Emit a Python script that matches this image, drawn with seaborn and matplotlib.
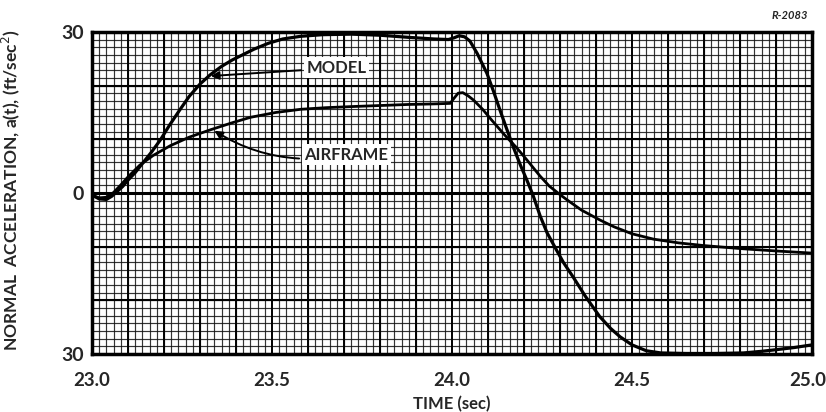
import numpy as np
import pandas as pd
import matplotlib
matplotlib.use("Agg")
import matplotlib.pyplot as plt
from matplotlib.ticker import MultipleLocator, FixedLocator
from matplotlib.transforms import ScaledTranslation
import seaborn as sns

# Time samples (sec) and normal acceleration (ft/sec^2) for each response
model_t = [23.00, 23.02, 23.04, 23.055, 23.07, 23.085, 23.10, 23.12, 23.14,
           23.165, 23.19, 23.215, 23.244, 23.27, 23.30, 23.328, 23.36, 23.39,
           23.42, 23.45, 23.49, 23.53, 23.58, 23.64, 23.72, 23.80, 23.88,
           23.95, 23.99, 24.005, 24.02, 24.035, 24.05, 24.07, 24.097, 24.115,
           24.133, 24.15, 24.17, 24.19, 24.208, 24.225, 24.245, 24.264, 24.29,
           24.31, 24.336, 24.37, 24.41, 24.44, 24.467, 24.50, 24.54, 24.58,
           24.65, 24.73, 24.81, 24.86, 24.90, 24.95, 25.00]
model_a = [-0.4, -1.1, -1.2, -0.6, 0.3, 1.2, 2.4, 3.8, 5.5,
           7.6, 9.9, 12.6, 15.5, 18.0, 20.3, 22.0, 23.6, 24.8,
           25.8, 26.8, 27.9, 28.7, 29.2, 29.5, 29.6, 29.4, 29.0,
           28.7, 28.6, 28.9, 29.3, 29.1, 28.3, 26.0, 22.3, 19.0,
           15.5, 12.3, 8.6, 5.2, 2.4, -0.4, -4.3, -7.4, -10.6,
           -13.0, -15.6, -19.2, -23.0, -25.2, -26.8, -28.3, -29.4, -29.8,
           -29.9, -29.9, -29.8, -29.5, -29.2, -28.8, -28.3]

airframe_t = [23.00, 23.02, 23.04, 23.06, 23.08, 23.10, 23.133, 23.17, 23.217,
              23.27, 23.33, 23.39, 23.44, 23.51, 23.58, 23.65, 23.72, 23.80,
              23.88, 23.95, 23.995, 24.005, 24.017, 24.03, 24.045, 24.06,
              24.085, 24.11, 24.145, 24.18, 24.21, 24.244, 24.27, 24.30, 24.32,
              24.36, 24.41, 24.45, 24.50, 24.56, 24.63, 24.70, 24.81, 24.90,
              25.00]
airframe_a = [-0.4, -0.9, -0.8, 0.1, 1.5, 3.0, 5.2, 7.0, 8.8,
              10.4, 11.8, 13.1, 14.1, 15.0, 15.6, 15.9, 16.1, 16.3,
              16.5, 16.6, 16.7, 17.6, 18.6, 18.7, 18.1, 17.3,
              15.6, 13.6, 10.9, 8.4, 6.0, 3.2, 1.3, -0.3, -1.3,
              -3.2, -5.0, -6.3, -7.6, -8.6, -9.3, -9.8, -10.4, -10.8,
              -11.2]

x_ticks = [23.0, 23.5, 24.0, 24.5, 25.0]
x_tick_labels = ["23.0", "23.5", "24.0", "24.5", "25.0"]
y_ticks = [-30, 0, 30]
y_tick_labels = ["30", "0", "30"]

df = pd.concat([
    pd.DataFrame({"t": model_t, "a": model_a, "series": "MODEL"}),
    pd.DataFrame({"t": airframe_t, "a": airframe_a, "series": "AIRFRAME"}),
], ignore_index=True)

sns.set_theme(style="white")
plt.rcParams["font.family"] = ["Lato", "DejaVu Sans"]

fig = plt.figure(figsize=(8.26, 4.12), dpi=100)
ax = fig.add_axes([92 / 826, 58 / 412, 720 / 826, 322 / 412])

# graph-paper grid: fine squares plus heavier rulings
ax.set_xlim(23.0, 25.0)
ax.set_ylim(-30, 30)
ax.xaxis.set_minor_locator(MultipleLocator(0.02))
ax.yaxis.set_minor_locator(MultipleLocator(10 / 7))
ax.grid(which="minor", color="#111111", lw=0.85, alpha=0.85)
for xv in np.arange(23.1, 25.0, 0.1):
    ax.axvline(xv, color="black", lw=1.4, zorder=1)
for yv in (-20, -10, 10, 20):
    ax.axhline(yv, color="black", lw=1.5, zorder=1)
ax.axhline(0, color="black", lw=2.2, zorder=2)

sns.lineplot(data=df[df.series == "MODEL"], x="t", y="a", color="black",
             lw=2.3, estimator=None, sort=False, ax=ax, zorder=4)
sns.lineplot(data=df[df.series == "AIRFRAME"], x="t", y="a", color="black",
             lw=2.0, estimator=None, sort=False, ax=ax, zorder=4)

ax.set_xlim(23.0, 25.0)
ax.set_ylim(-30, 30)

ax.xaxis.set_major_locator(FixedLocator(x_ticks))
ax.set_xticklabels(x_tick_labels)
ax.yaxis.set_major_locator(FixedLocator(y_ticks))
ax.set_yticklabels(y_tick_labels)
ax.grid(False, which="major")

ax.tick_params(axis="both", which="both", length=0)
ax.tick_params(axis="x", pad=13, labelsize=13.5)
ax.tick_params(axis="y", pad=6, labelsize=14)
for lab in ax.get_xticklabels() + ax.get_yticklabels():
    lab.set_fontweight("bold")
last = ax.get_xticklabels()[-1]
last.set_transform(last.get_transform()
                   + ScaledTranslation(-4 / 100, 0, fig.dpi_scale_trans))

for sp in ax.spines.values():
    sp.set_visible(True)
    sp.set_color("black")
    sp.set_linewidth(2.5)

ax.set_xlabel("TIME (sec)", fontsize=12, fontweight="bold")
ax.xaxis.set_label_coords(0.5, -0.13)
ax.set_ylabel("NORMAL  ACCELERATION, a(t), (ft/sec$^2$)", fontsize=12.5,
              fontweight="bold")
ax.yaxis.set_label_coords(-0.097, 0.51)

arrow = dict(arrowstyle="-|>", color="black", lw=1.4, mutation_scale=12,
             shrinkA=2, shrinkB=0)
ax.annotate("MODEL", xy=(23.33, 21.8), xytext=(23.595, 23.3),
            fontsize=12, fontweight="bold", va="center", ha="left",
            bbox=dict(boxstyle="square,pad=0.15", fc="white", ec="none"),
            arrowprops=arrow, zorder=6)
ax.annotate("AIRFRAME", xy=(23.34, 11.6), xytext=(23.59, 7.1),
            fontsize=12, fontweight="bold", va="center", ha="left",
            bbox=dict(boxstyle="square,pad=0.15", fc="white", ec="none"),
            arrowprops=dict(arrow, connectionstyle="arc3,rad=-0.2"),
            zorder=6)

fig.text(0.978, 0.962, "R-2083", fontsize=8, fontweight="bold",
         style="italic", ha="right", va="center")

fig.savefig("out.png", dpi=100)
